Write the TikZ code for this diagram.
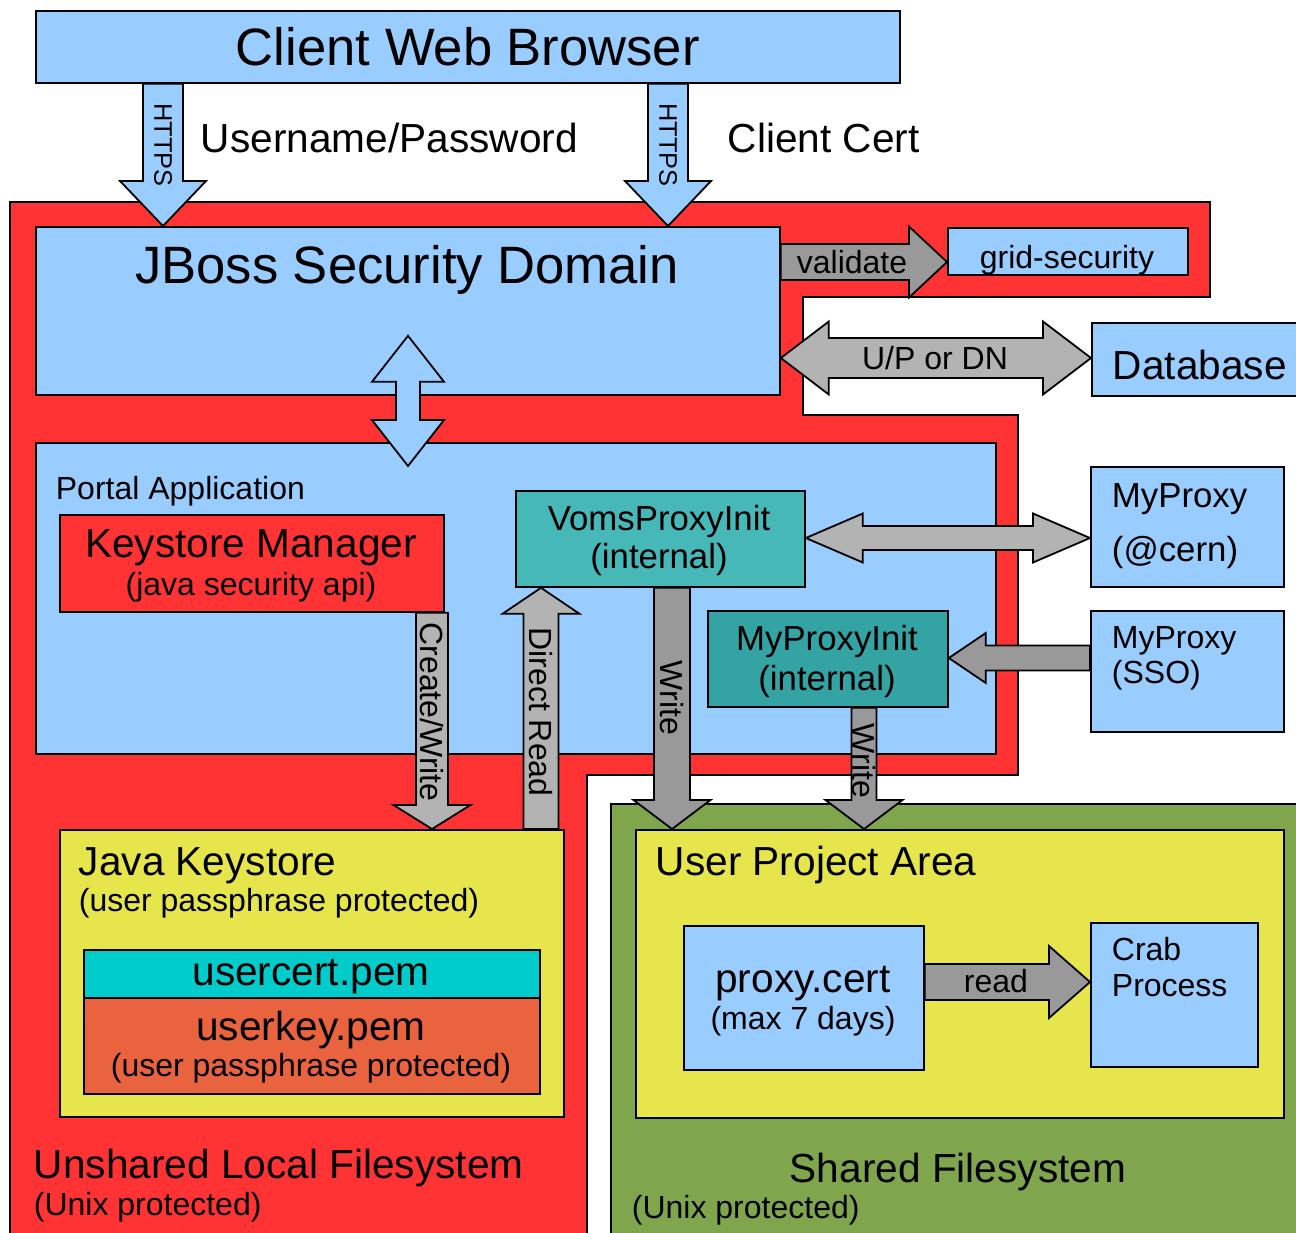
\documentclass[tikz,border=0pt]{standalone}
\usepackage{fontspec}
\setmainfont{Liberation Sans}
\usetikzlibrary{calc}

\definecolor{skyblue}{HTML}{99CCFF}
\definecolor{zonered}{HTML}{FF3333}
\definecolor{zonegreen}{HTML}{7FA64C}
\definecolor{filey}{HTML}{E6E64C}
\definecolor{tealA}{HTML}{47B8B8}
\definecolor{tealB}{HTML}{33A3A3}
\definecolor{certcyan}{HTML}{00CCCC}
\definecolor{keyorange}{HTML}{E9633F}
\definecolor{greyA}{HTML}{B3B3B3}
\definecolor{greyB}{HTML}{999999}

% angle and length from tail to tip
\newcommand{\arrowsetup}[2]{%
  \path let \p1=($(#2)-(#1)$) in \pgfextra{%
    \pgfmathsetmacro{\arrowang}{atan2(\y1,\x1)}%
    \pgfmathsetlengthmacro{\arrowlen}{veclen(\x1,\y1)}%
    \global\let\arrowang\arrowang \global\let\arrowlen\arrowlen};}
% style, tail, tip, shaft half width, head half width, head length
\newcommand{\blockarrow}[6]{%
  \arrowsetup{#2}{#3}
  \begin{scope}[shift={(#2)}, rotate=\arrowang]
    \draw[#1] (0pt,-#4) -- ({\arrowlen-#6},-#4) -- ({\arrowlen-#6},-#5) -- (\arrowlen,0pt)
      -- ({\arrowlen-#6},#5) -- ({\arrowlen-#6},#4) -- (0pt,#4) -- cycle;
  \end{scope}}
\newcommand{\dblarrow}[6]{%
  \arrowsetup{#2}{#3}
  \begin{scope}[shift={(#2)}, rotate=\arrowang]
    \draw[#1] (0pt,0pt) -- (#6,-#5) -- (#6,-#4) -- ({\arrowlen-#6},-#4) -- ({\arrowlen-#6},-#5)
      -- (\arrowlen,0pt) -- ({\arrowlen-#6},#5) -- ({\arrowlen-#6},#4) -- (#6,#4) -- (#6,#5) -- cycle;
  \end{scope}}

\begin{document}
\begin{tikzpicture}
[x=0.5pt, y=-0.5pt, line width=0.9pt,
 cbox/.style={draw, inner sep=0pt, anchor=north west},
 txt/.style={inner sep=0pt},
 blkarrow/.style={draw, line join=miter},
 fnttitle/.style={font=\fontsize{26.3}{31}\selectfont},
 fntbig/.style={font=\fontsize{20.3}{24}\selectfont},
 fntmid/.style={font=\fontsize{17.4}{21}\selectfont},
 fntsmall/.style={font=\fontsize{16}{19}\selectfont},
 fnttiny/.style={font=\fontsize{12.7}{15}\selectfont}]
\useasboundingbox (0,0) rectangle (1296,1232);
\clip (0,0) rectangle (1296,1232);

% filesystems
\draw[fill=zonered] (10,202) -- (1210,202) -- (1210,297) -- (803,297) -- (803,415) -- (1018,415)
  -- (1018,775) -- (587,775) -- (587,1250) -- (10,1250) -- cycle;
\draw[fill=zonegreen] (611,804) rectangle (1310,1250);

\node[cbox, fill=skyblue, minimum width=432pt, minimum height=36pt, fnttitle] (browser) at (35,10) {Client Web Browser};
\node[cbox, fill=skyblue, minimum width=372pt, minimum height=84pt] (jboss) at (35,226) {};
\node[cbox, fill=skyblue, minimum width=120pt, minimum height=23.5pt] (gridsec) at (947,227) {};
\node[cbox, fill=skyblue, minimum width=120pt, minimum height=36.5pt] (database) at (1091,322) {};
\node[cbox, fill=skyblue, minimum width=480pt, minimum height=155.5pt] (portal) at (35,442) {};
\node[cbox, fill=zonered, minimum width=192pt, minimum height=48.5pt] (kmgr) at (59,514) {};
\node[cbox, fill=tealA, minimum width=144.5pt, minimum height=48pt] (voms) at (515,490) {};
\node[cbox, fill=tealB, minimum width=120pt, minimum height=48pt] (mpinit) at (707,610) {};
\node[cbox, fill=skyblue, minimum width=96.5pt, minimum height=60pt] (cern) at (1090,466) {};
\node[cbox, fill=skyblue, minimum width=96.5pt, minimum height=60.5pt] (sso) at (1090,610) {};
\node[cbox, fill=filey, minimum width=252pt, minimum height=143.5pt] (jks) at (59,829) {};
\node[cbox, fill=certcyan, minimum width=228pt, minimum height=24pt] (usercert) at (83,949) {};
\node[cbox, fill=keyorange, minimum width=228pt, minimum height=48pt] (userkey) at (83,997) {};
\node[cbox, fill=filey, minimum width=324pt, minimum height=144pt] (upa) at (635,829) {};
\node[cbox, fill=skyblue, minimum width=120pt, minimum height=72pt] (proxycert) at (683,925) {};
\node[cbox, fill=skyblue, minimum width=83.5pt, minimum height=72pt] (crab) at (1090,922) {};

\node[txt, fntbig, anchor=base west] (tuser) at (200,152) {Username/Password};
\node[txt, fntbig, anchor=base west] (tcert) at (727,152) {Client Cert};
\node[txt, fnttitle, anchor=base] (tjboss) at (407,283) {JBoss Security Domain};
\node[txt, fntsmall, anchor=base] (tgrid) at (1067,268) {grid-security};
\node[txt, fntbig, anchor=base west] (tdb) at (1112,379) {Database};
\node[txt, fntsmall, anchor=base west] (tportal) at (55,499) {Portal Application};
\node[txt, fntbig, anchor=base] (tkmgr) at (251,557) {Keystore Manager};
\node[txt, fntsmall, anchor=base] (tkmgrb) at (251,595) {(java security api)};
\node[txt, fntmid, anchor=base] (tvoms) at (659,530) {VomsProxyInit};
\node[txt, fntmid, anchor=base] (tvomsb) at (659,568) {(internal)};
\node[txt, fntmid, anchor=base] (tmpinit) at (827,650) {MyProxyInit};
\node[txt, fntmid, anchor=base] (tmpinitb) at (827,690) {(internal)};
\node[txt, fntmid, anchor=base west] (tcern) at (1111,507) {MyProxy};
\node[txt, fntmid, anchor=base west] (tcernb) at (1111,561) {(@cern)};
\node[txt, fntsmall, anchor=base west] (tsso) at (1111,648) {MyProxy};
\node[txt, fntsmall, anchor=base west] (tssob) at (1111,683) {(SSO)};
\node[txt, fntbig, anchor=base west] (tjks) at (78,875) {Java Keystore};
\node[txt, fntsmall, anchor=base west] (tjksb) at (78,911) {(user passphrase protected)};
\node[txt, fntbig, anchor=base] (tcertf) at (311,985) {usercert.pem};
\node[txt, fntbig, anchor=base] (tkeyf) at (311,1040) {userkey.pem};
\node[txt, fntsmall, anchor=base] (tkeyfb) at (311,1076) {(user passphrase protected)};
\node[txt, fntbig, anchor=base west] (tlocal) at (33,1178) {Unshared Local Filesystem};
\node[txt, fntsmall, anchor=base west] (tlocalb) at (33,1215) {(Unix protected)};
\node[txt, fntbig, anchor=base west] (tupa) at (655,875) {User Project Area};
\node[txt, fntbig, anchor=base] (tproxy) at (803,992) {proxy.cert};
\node[txt, fntsmall, anchor=base] (tproxyb) at (803,1029) {(max 7 days)};
\node[txt, fntsmall, anchor=base west] (tcrab) at (1111,960) {Crab};
\node[txt, fntsmall, anchor=base west] (tcrabb) at (1111,996) {Process};
\node[txt, fntbig, anchor=base] (tshared) at (958,1182) {Shared Filesystem};
\node[txt, fntsmall, anchor=base west] (tsharedb) at (631,1218) {(Unix protected)};

% arrows
\coordinate (jbtip) at ($(jboss.south -| 408,0)+(0,-60)$);
\coordinate (pttip) at ($(portal.north -| 408,0)+(0,24)$);
\blockarrow{blkarrow, fill=skyblue}{browser.south -| 163,0}{jboss.north -| 163,0}{10pt}{21.5pt}{22.5pt}
\blockarrow{blkarrow, fill=skyblue}{browser.south -| 668,0}{jboss.north -| 668,0}{10pt}{21.5pt}{22.5pt}
\blockarrow{blkarrow, fill=greyB}{jboss.east |- 0,262}{gridsec.west |- 0,262}{9pt}{17.75pt}{19pt}
\dblarrow{blkarrow, fill=greyA}{jboss.east |- 0,358}{database.west |- 0,358}{10pt}{18.25pt}{24pt}
\dblarrow{blkarrow, fill=skyblue}{jbtip}{pttip}{6pt}{18pt}{23pt}
\blockarrow{blkarrow, fill=greyA}{kmgr.south -| 432,0}{jks.north -| 432,0}{8pt}{19.25pt}{12pt}
\blockarrow{blkarrow, fill=greyA}{jks.north -| 541,0}{voms.south -| 541,0}{8.75pt}{19.25pt}{13pt}
\dblarrow{blkarrow, fill=greyA}{voms.east |- 0,538}{cern.west |- 0,538}{6pt}{12.25pt}{28.5pt}
\blockarrow{blkarrow, fill=greyB}{sso.west |- 0,658}{mpinit.east |- 0,658}{6.25pt}{12.5pt}{18.5pt}
\blockarrow{blkarrow, fill=greyB}{voms.south -| 672,0}{upa.north -| 672,0}{9pt}{19.25pt}{14.5pt}
\blockarrow{blkarrow, fill=greyB}{mpinit.south -| 864,0}{upa.north -| 864,0}{6.25pt}{19.25pt}{14.5pt}
\blockarrow{blkarrow, fill=greyB}{proxycert.east |- 0,982}{crab.west |- 0,982}{9pt}{18pt}{20.5pt}

\node[txt, fnttiny, rotate=-90] (thttpsA) at (163,145) {HTTPS};
\node[txt, fnttiny, rotate=-90] (thttpsB) at (668,145) {HTTPS};
\node[txt, fntsmall, anchor=base] (tvalid) at (852,273) {validate};
\node[txt, fntsmall, anchor=base] (tupdn) at (935,369) {U/P or DN};
\node[txt, fntsmall, rotate=-90] (tcreate) at (432,712) {Create/Write};
\node[txt, fntsmall, rotate=-90] (tdirect) at (541,712) {Direct Read};
\node[txt, fntsmall, rotate=-90] (twriteA) at (672,698) {Write};
\node[txt, fntsmall, rotate=-90] (twriteB) at (864,761) {Write};
\node[txt, fntsmall, anchor=base] (tread) at (996,992) {read};
\end{tikzpicture}
\end{document}
